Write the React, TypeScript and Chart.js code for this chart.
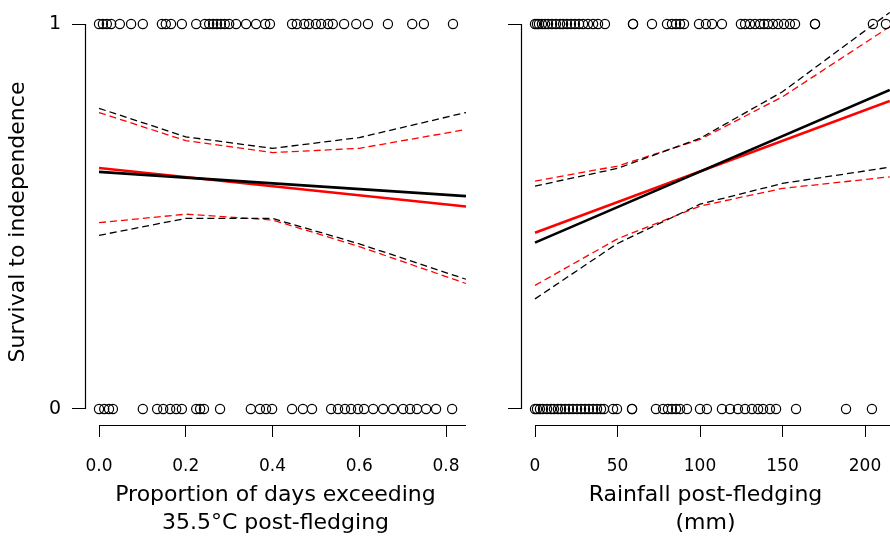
import React, { useEffect, useRef } from 'react';
import { Chart, registerables } from 'chart.js';
Chart.register(...registerables);

// ---------- Data: heat panel ----------
const heatTicks = [0, 0.2, 0.4, 0.6, 0.8];
const heatSurvivedX = [0, 0.009, 0.018, 0.028, 0.048, 0.074, 0.101, 0.145, 0.154, 0.166, 0.191, 0.224, 0.244, 0.254, 0.263, 0.272, 0.281, 0.29, 0.3, 0.316, 0.339, 0.362, 0.383, 0.394, 0.445, 0.456, 0.473, 0.484, 0.5, 0.512, 0.528, 0.539, 0.565, 0.593, 0.62, 0.666, 0.722, 0.749, 0.816];
const heatDiedX = [0, 0.012, 0.023, 0.032, 0.101, 0.134, 0.148, 0.164, 0.178, 0.191, 0.224, 0.233, 0.242, 0.279, 0.35, 0.371, 0.385, 0.399, 0.445, 0.47, 0.491, 0.535, 0.551, 0.567, 0.581, 0.597, 0.611, 0.632, 0.655, 0.678, 0.701, 0.717, 0.733, 0.754, 0.777, 0.814];
const heatFitX = [0, 0.846];
const heatFitBlack = [0.616, 0.553];
const heatFitRed = [0.626, 0.526];
const heatCiX = [0, 0.2, 0.4, 0.6, 0.846];
const heatUpperBlack = [0.781, 0.707, 0.677, 0.705, 0.77];
const heatLowerBlack = [0.451, 0.495, 0.495, 0.429, 0.337];
const heatUpperRed = [0.77, 0.697, 0.666, 0.677, 0.726];
const heatLowerRed = [0.484, 0.506, 0.491, 0.422, 0.326];

// ---------- Data: rainfall panel ----------
const rainTicks = [0, 50, 100, 150, 200];
const rainSurvivedX = [0, 1.2, 2.4, 4.2, 6.1, 7.9, 10.3, 12.7, 15.2, 17, 19.4, 21.8, 24.2, 26.7, 29.1, 32.1, 35.2, 38.2, 42.4, 59.4, 59.4, 70.9, 80, 83, 85.5, 87.9, 90.3, 99.4, 103.6, 107.3, 113.3, 124.8, 127.3, 130.3, 133.3, 136.4, 138.8, 141.2, 144.2, 147.3, 150.9, 154.5, 157.6, 169.7, 169.7, 204.8, 212.7];
const rainDiedX = [0, 1.2, 3, 4.8, 7.3, 9.7, 11.5, 13.9, 15.8, 18.2, 20.6, 23, 25.5, 27.9, 30.3, 32.7, 35.2, 37.6, 40, 41.8, 47.3, 49.7, 58.8, 58.8, 73.3, 77.6, 80.6, 83, 85.5, 87.9, 92.1, 100, 104.2, 113.3, 118.2, 123, 127.3, 131.5, 135.2, 138.2, 142.4, 146.1, 158.2, 188.5, 204.2];
const rainFitX = [0, 215];
const rainFitBlack = [0.432, 0.829];
const rainFitRed = [0.458, 0.8];
const rainCiX = [0, 50, 100, 150, 215];
const rainUpperBlack = [0.579, 0.625, 0.703, 0.824, 1.03];
const rainLowerBlack = [0.286, 0.43, 0.532, 0.586, 0.628];
const rainUpperRed = [0.592, 0.631, 0.7, 0.811, 0.993];
const rainLowerRed = [0.321, 0.442, 0.527, 0.573, 0.603];

const yTicks = [0, 1];

const FONT = "'DejaVu Sans', sans-serif";
Chart.defaults.font.family = FONT;
Chart.defaults.color = '#000';

const rAxes = {
  id: 'rAxes',
  afterDatasetsDraw(chart: any, _args: any, opts: any) {
    const { ctx, chartArea } = chart;
    const x = chart.scales.x;
    const y = chart.scales.y;
    ctx.save();
    ctx.strokeStyle = '#000';
    ctx.lineWidth = 1.2;
    ctx.beginPath();
    const by = Math.round(chartArea.bottom) + 0.5;
    ctx.moveTo(x.getPixelForValue(opts.xFrom), by);
    ctx.lineTo(x.getPixelForValue(opts.xTo), by);
    const lx = Math.round(chartArea.left) + 0.5;
    ctx.moveTo(lx, y.getPixelForValue(0));
    ctx.lineTo(lx, y.getPixelForValue(1));
    ctx.stroke();
    ctx.restore();
  },
};

const pts = (xs: number[], yv: number) => xs.map((v) => ({ x: v, y: yv }));
const line = (xs: number[], ys: number[]) => xs.map((v, i) => ({ x: v, y: ys[i] }));

function pointSet(xs: number[], yv: number) {
  return {
    data: pts(xs, yv),
    showLine: false,
    pointRadius: 4.6,
    pointBorderWidth: 1.2,
    pointBorderColor: '#000',
    pointBackgroundColor: 'rgba(0,0,0,0)',
    clip: false as any,
  };
}
function lineSet(xs: number[], ys: number[], color: string, dashed: boolean) {
  return {
    data: line(xs, ys),
    showLine: true,
    borderColor: color,
    borderWidth: dashed ? 1.3 : 2.6,
    borderDash: dashed ? [7, 4] : [],
    pointRadius: 0,
    tension: 0,
    fill: false,
    clip: false as any,
  };
}

const Y_MIN = -0.04156;
const Y_MAX = 1.01299;

function makeConfig(p: {
  xs1: number[]; xs0: number[];
  fitX: number[]; fitB: number[]; fitR: number[];
  ciX: number[]; ub: number[]; lb: number[]; ur: number[]; lr: number[];
  xMin: number; xMax: number; xTicks: number[]; fmt: (v: number) => string;
  yWidth: number; padRight: number; yTitle: string | null; xTitle: string[];
  yLabels: boolean;
}) {
  return {
    type: 'scatter',
    data: {
      datasets: [
        pointSet(p.xs1, 1),
        pointSet(p.xs0, 0),
        lineSet(p.ciX, p.ub, '#000', true),
        lineSet(p.ciX, p.lb, '#000', true),
        lineSet(p.ciX, p.ur, '#FF0000', true),
        lineSet(p.ciX, p.lr, '#FF0000', true),
        lineSet(p.fitX, p.fitB, '#000', false),
        lineSet(p.fitX, p.fitR, '#FF0000', false),
      ],
    },
    options: {
      animation: false,
      responsive: false,
      maintainAspectRatio: false,
      events: [],
      layout: { autoPadding: false, padding: { top: 19, right: p.padRight, bottom: 0, left: 0 } },
      plugins: {
        legend: { display: false },
        tooltip: { enabled: false },
        rAxes: { xFrom: 0, xTo: p.xMax },
      },
      scales: {
        x: {
          type: 'linear',
          min: p.xMin,
          max: p.xMax,
          afterBuildTicks: (s: any) => { s.ticks = p.xTicks.map((v) => ({ value: v })); },
          afterFit: (s: any) => { s.height = 113; s.paddingLeft = 0; s.paddingRight = 0; },
          border: { display: false },
          grid: { drawOnChartArea: false, drawTicks: true, tickLength: 12, color: '#000', lineWidth: 1 },
          ticks: {
            padding: 19,
            maxRotation: 0,
            autoSkip: false,
            font: { size: 17, family: FONT },
            color: '#000',
            callback: (v: any) => p.fmt(Number(v)),
          },
          title: {
            display: true,
            text: p.xTitle,
            font: { size: 22, family: FONT, lineHeight: 1.3 },
            color: '#000',
            padding: { top: 0, bottom: 0 },
          },
        },
        y: {
          type: 'linear',
          min: Y_MIN,
          max: Y_MAX,
          afterBuildTicks: (s: any) => { s.ticks = yTicks.map((v) => ({ value: v })); },
          afterFit: (s: any) => { s.width = p.yWidth; s.paddingTop = 0; s.paddingBottom = 0; },
          border: { display: false },
          grid: { drawOnChartArea: false, drawTicks: true, tickLength: 13, color: '#000', lineWidth: 1 },
          ticks: {
            display: p.yLabels,
            padding: 11,
            font: { size: 19, family: FONT },
            color: '#000',
            callback: (v: any) => String(v),
          },
          title: {
            display: !!p.yTitle,
            text: p.yTitle || '',
            font: { size: 22, family: FONT, lineHeight: 1.2 },
            color: '#000',
            padding: { top: 5, bottom: 0 },
          },
        },
      },
    },
    plugins: [rAxes],
  };
}

function Panel(props: { cfg: any; left: number; width: number }) {
  const ref = useRef<HTMLCanvasElement>(null);
  useEffect(() => {
    if (!ref.current) return;
    const chart = new Chart(ref.current, props.cfg);
    return () => chart.destroy();
  }, []);
  return (
    <canvas
      ref={ref}
      width={props.width}
      height={538}
      style={{ position: 'absolute', left: props.left, top: 0, width: props.width, height: 538 }}
    />
  );
}

export default function App() {
  const heatCfg = makeConfig({
    xs1: heatSurvivedX, xs0: heatDiedX,
    fitX: heatFitX, fitB: heatFitBlack, fitR: heatFitRed,
    ciX: heatCiX, ub: heatUpperBlack, lb: heatLowerBlack, ur: heatUpperRed, lr: heatLowerRed,
    xMin: -0.0323, xMax: 0.846, xTicks: heatTicks, fmt: (v) => v.toFixed(1),
    yWidth: 85, padRight: 14, yTitle: 'Survival to independence',
    xTitle: ['Proportion of days exceeding', '35.5°C post-fledging'], yLabels: true,
  });
  const rainCfg = makeConfig({
    xs1: rainSurvivedX, xs0: rainDiedX,
    fitX: rainFitX, fitB: rainFitBlack, fitR: rainFitRed,
    ciX: rainCiX, ub: rainUpperBlack, lb: rainLowerBlack, ur: rainUpperRed, lr: rainLowerRed,
    xMin: -8.485, xMax: 215.15, xTicks: rainTicks, fmt: (v) => String(v),
    yWidth: 41, padRight: 0, yTitle: null,
    xTitle: ['Rainfall post-fledging', '(mm)'], yLabels: false,
  });
  return (
    <div style={{ position: 'absolute', left: 0, top: 0, width: 890, height: 538, background: '#fff', overflow: 'hidden' }}>
      <Panel cfg={heatCfg} left={0} width={480} />
      <Panel cfg={rainCfg} left={480} width={410} />
    </div>
  );
}
